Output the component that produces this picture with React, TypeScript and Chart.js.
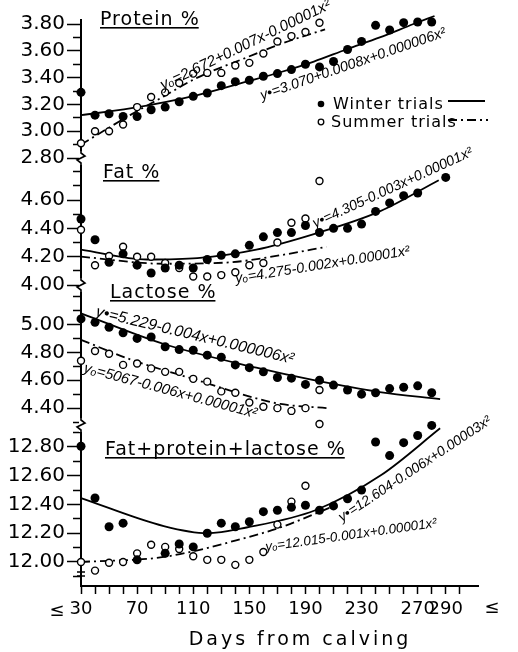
import { useEffect, useRef } from 'react';
import { Chart, registerables } from 'chart.js';

Chart.register(...registerables);

// ---------------- data ----------------
const winterDays = [30, 40, 50, 60, 70, 80, 90, 100, 110, 120, 130, 140, 150, 160, 170, 180, 190, 200, 210, 220, 230, 240, 250, 260, 270, 280];
const summerDays = [30, 40, 50, 60, 70, 80, 90, 100, 110, 120, 130, 140, 150, 160, 170, 180, 190, 200];
const fatWinterDays = [30, 40, 50, 60, 70, 80, 90, 100, 110, 120, 130, 140, 150, 160, 170, 180, 190, 200, 210, 220, 230, 240, 250, 260, 270, 290];
const fplWinterDays = [30, 40, 50, 60, 70, 90, 100, 110, 120, 130, 140, 150, 160, 170, 180, 190, 200, 210, 220, 230, 240, 250, 260, 270, 280];

const proteinWinter = [3.29, 3.12, 3.13, 3.11, 3.11, 3.16, 3.18, 3.22, 3.26, 3.285, 3.34, 3.37, 3.38, 3.41, 3.43, 3.46, 3.5, 3.48, 3.52, 3.61, 3.67, 3.79, 3.755, 3.81, 3.815, 3.815];
const proteinSummer = [2.91, 3.0, 3.0, 3.05, 3.18, 3.255, 3.29, 3.36, 3.43, 3.435, 3.435, 3.49, 3.51, 3.58, 3.67, 3.71, 3.74, 3.81];
const fatWinter = [4.466, 4.32, 4.16, 4.22, 4.14, 4.085, 4.12, 4.14, 4.12, 4.18, 4.21, 4.22, 4.28, 4.34, 4.37, 4.37, 4.42, 4.37, 4.4, 4.4, 4.43, 4.52, 4.58, 4.63, 4.65, 4.76];
const fatSummer = [4.39, 4.14, 4.205, 4.27, 4.2, 4.2, 4.155, 4.12, 4.06, 4.06, 4.07, 4.09, 4.14, 4.155, 4.3, 4.44, 4.47, 4.735];
const lactoseWinter = [5.04, 5.015, 4.98, 4.94, 4.9, 4.91, 4.84, 4.82, 4.815, 4.78, 4.765, 4.71, 4.69, 4.66, 4.62, 4.615, 4.57, 4.6, 4.565, 4.53, 4.5, 4.51, 4.54, 4.55, 4.56, 4.51];
const lactoseSummer = [4.74, 4.81, 4.79, 4.71, 4.72, 4.685, 4.66, 4.66, 4.61, 4.59, 4.52, 4.51, 4.44, 4.41, 4.4, 4.38, 4.4, 4.53];
const fplWinter = [12.805, 12.445, 12.245, 12.27, 12.015, 12.06, 12.125, 12.105, 12.2, 12.27, 12.245, 12.28, 12.35, 12.36, 12.38, 12.395, 12.36, 12.39, 12.44, 12.5, 12.835, 12.74, 12.83, 12.88, 12.95];
const fplSummer = [12.0, 11.94, 11.995, 12.0, 12.06, 12.12, 12.105, 12.09, 12.04, 12.015, 12.015, 11.98, 12.015, 12.07, 12.26, 12.42, 12.53, 12.96];

// fitted curves
const proteinWinterFitDays = [30, 65, 113, 148, 172, 196, 219, 243, 267, 282];
const proteinWinterFit = [3.12, 3.17, 3.27, 3.37, 3.44, 3.52, 3.61, 3.7, 3.8, 3.86];
const proteinSummerFitDays = [30, 65, 89, 113, 148, 172, 204];
const proteinSummerFit = [2.9, 3.12, 3.26, 3.4, 3.55, 3.65, 3.76];
const fatWinterFitDays = [30, 77, 113, 155, 196, 243, 285];
const fatWinterFit = [4.25, 4.18, 4.19, 4.25, 4.36, 4.52, 4.74];
const fatSummerFitDays = [30, 89, 136, 172, 205];
const fatSummerFit = [4.2, 4.15, 4.16, 4.21, 4.27];
const lactoseWinterFitDays = [30, 89, 155, 196, 243, 286];
const lactoseWinterFit = [5.08, 4.86, 4.69, 4.6, 4.515, 4.465];
const lactoseSummerFitDays = [30, 65, 113, 155, 172, 205];
const lactoseSummerFit = [4.89, 4.75, 4.6, 4.47, 4.43, 4.4];
const fplWinterFitDays = [30, 89, 120, 148, 197, 244, 286];
const fplWinterFit = [12.445, 12.25, 12.2, 12.24, 12.36, 12.605, 12.93];
const fplSummerFitDays = [30, 89, 148, 172, 208];
const fplSummerFit = [12.0, 12.035, 12.17, 12.24, 12.38];

// tick labels
const xTickLabels = [30, 70, 110, 150, 190, 230, 270, 290];
const proteinTickLabels = [2.8, 3.0, 3.2, 3.4, 3.6, 3.8];
const fatTickLabels = [4.0, 4.2, 4.4, 4.6];
const lactoseTickLabels = [4.4, 4.6, 4.8, 5.0];
const fplTickLabels = [12.0, 12.2, 12.4, 12.6, 12.8];

const panelTitles = ['Protein %', 'Fat %', 'Lactose %', 'Fat+protein+lactose %'];
const legendLabels = ['Winter trials', 'Summer trials'];
const xTitle = 'Days from calving';
const equations = [
  'yₒ=2.672+0.007x-0.00001x²',
  'y•=3.070+0.0008x+0.000006x²',
  'y•=4.305-0.003x+0.00001x²',
  'yₒ=4.275-0.002x+0.00001x²',
  'y•=5.229-0.004x+0.000006x²',
  'yₒ=5067-0.006x+0.00001x²',
  'y•=12.604-0.006x+0.00003x²',
  'yₒ=12.015-0.001x+0.00001x²',
];

// ---------------- styling / layout ----------------
const SANS = '"DejaVu Sans", sans-serif';
const SUMMER_DASH = [9, 4, 2, 4];

const titlePos = [
  [100, 25],
  [103, 178],
  [110, 298],
  [105, 455],
];
const eqPos = [
  [163, 90, 332, 8],
  [262, 100, 447, 36],
  [315, 228, 474, 155],
  [236, 283, 410, 255],
  [95, 316, 293, 364],
  [83, 372, 255, 418],
  [342, 522, 492, 423],
  [266, 551, 437, 527],
];

const pts = (xs: number[], ys: number[]) => xs.map((d, i) => ({ x: d, y: ys[i] }));

function winterPoints(xs: number[], ys: number[], axis: string) {
  return {
    data: pts(xs, ys),
    yAxisID: axis,
    showLine: false,
    pointRadius: 4.5,
    pointBackgroundColor: '#000',
    pointBorderColor: '#000',
    pointBorderWidth: 0,
    clip: false as const,
    order: 0,
  };
}
function summerPoints(xs: number[], ys: number[], axis: string) {
  return {
    data: pts(xs, ys),
    yAxisID: axis,
    showLine: false,
    pointRadius: 3.5,
    pointBackgroundColor: '#fff',
    pointBorderColor: '#000',
    pointBorderWidth: 1.4,
    clip: false as const,
    order: 0,
  };
}
function fitLine(xs: number[], ys: number[], axis: string, dashed: boolean) {
  return {
    data: pts(xs, ys),
    yAxisID: axis,
    showLine: true,
    pointRadius: 0,
    borderColor: '#000',
    borderWidth: 1.8,
    borderDash: dashed ? SUMMER_DASH : [],
    tension: 0.4,
    cubicInterpolationMode: 'monotone' as const,
    clip: false as const,
    order: 1,
  };
}

function yAxis(min: number, max: number, weight: number, labels: number[]) {
  return {
    type: 'linear' as const,
    position: 'left' as const,
    stack: 'panels',
    stackWeight: weight,
    min,
    max,
    border: { display: true, color: '#000', width: 2 },
    grid: {
      drawOnChartArea: false,
      drawTicks: true,
      tickLength: 14,
      tickColor: '#000',
      tickWidth: 1.5,
      tickBorderDash: (ctx: any) => {
        const v = ctx.tick ? ctx.tick.value : 0;
        const major = labels.some((l) => Math.abs(l - v) < 1e-6);
        return major ? [] : [0, 6, 30];
      },
    },
    ticks: {
      stepSize: 0.1,
      includeBounds: false,
      autoSkip: false,
      padding: 2,
      color: '#000',
      font: { family: SANS, size: 20 },
      callback: (v: any) => {
        const n = Number(v);
        return labels.some((l) => Math.abs(l - n) < 1e-6) ? n.toFixed(2) : '';
      },
    },
    afterFit: (s: any) => {
      s.width = 81;
      s.paddingTop = 0;
      s.paddingBottom = 0;
    },
  };
}

const decorPlugin = {
  id: 'decor',
  afterDraw(chart: any) {
    const ctx: CanvasRenderingContext2D = chart.ctx;
    const { yF, yL, yT, x } = chart.scales;
    const ax = chart.chartArea.left;
    ctx.save();
    ctx.fillStyle = '#000';
    ctx.strokeStyle = '#000';
    ctx.lineCap = 'butt';

    // axis breaks
    [yF.top, yL.top, yT.top].forEach((by: number) => {
      ctx.fillStyle = '#fff';
      ctx.fillRect(ax - 2, by - 7, 4, 14);
      ctx.beginPath();
      ctx.moveTo(ax, by - 8);
      ctx.lineTo(ax, by - 5);
      ctx.lineTo(ax + 4, by - 2);
      ctx.lineTo(ax - 4, by + 2);
      ctx.lineTo(ax, by + 5);
      ctx.lineTo(ax, by + 8);
      ctx.lineWidth = 1.6;
      ctx.stroke();
    });
    const bb = yT.bottom - 12;
    ctx.lineWidth = 1.5;
    ctx.beginPath();
    ctx.moveTo(ax - 4, bb - 2);
    ctx.lineTo(ax + 4, bb - 2);
    ctx.moveTo(ax - 4, bb + 2);
    ctx.lineTo(ax + 4, bb + 2);
    ctx.stroke();

    ctx.fillStyle = '#000';
    // panel titles
    (ctx as any).letterSpacing = '1px';
    ctx.font = `19px ${SANS}`;
    ctx.textBaseline = 'alphabetic';
    ctx.textAlign = 'left';
    panelTitles.forEach((t, i) => {
      const [tx, ty] = titlePos[i];
      ctx.fillText(t, tx, ty);
      const w = ctx.measureText(t).width;
      ctx.fillRect(tx, ty + 2, w - 1, 1.6);
    });

    // legend
    ctx.font = `16px ${SANS}`;
    ctx.beginPath();
    ctx.arc(321, 104, 3.3, 0, Math.PI * 2);
    ctx.fill();
    ctx.fillText(legendLabels[0], 333, 109);
    ctx.beginPath();
    ctx.arc(321, 122, 2.8, 0, Math.PI * 2);
    ctx.lineWidth = 1.3;
    ctx.stroke();
    ctx.fillText(legendLabels[1], 331, 127);
    ctx.lineWidth = 1.8;
    ctx.beginPath();
    ctx.moveTo(448, 101);
    ctx.lineTo(485, 101);
    ctx.stroke();
    ctx.setLineDash(SUMMER_DASH);
    ctx.beginPath();
    ctx.moveTo(448, 120);
    ctx.lineTo(488, 120);
    ctx.stroke();
    ctx.setLineDash([]);

    // x-axis title and extras
    (ctx as any).letterSpacing = '3px';
    ctx.font = `19px ${SANS}`;
    ctx.textAlign = 'center';
    ctx.fillText(xTitle, 300, 645);
    (ctx as any).letterSpacing = '0px';
    ctx.font = `18px ${SANS}`;
    ctx.fillText('≤', x.left - 24, 616);
    ctx.fillText('≤', x.right + 14, 613);

    // equations
    (ctx as any).letterSpacing = '0px';
    ctx.textAlign = 'left';
    equations.forEach((t, i) => {
      const [x1, y1, x2, y2] = eqPos[i];
      const len = Math.hypot(x2 - x1, y2 - y1);
      const ang = Math.atan2(y2 - y1, x2 - x1);
      ctx.font = `italic 14px "Liberation Sans", sans-serif`;
      const w = ctx.measureText(t).width;
      const size = Math.max(10, Math.min(17, (14 * len) / w));
      ctx.font = `italic ${size.toFixed(1)}px "Liberation Sans", sans-serif`;
      ctx.save();
      ctx.translate(x1, y1);
      ctx.rotate(ang);
      ctx.fillText(t, 0, 0);
      ctx.restore();
    });
    ctx.restore();
  },
};

export default function App() {
  const ref = useRef<HTMLCanvasElement | null>(null);
  useEffect(() => {
    if (!ref.current) return;
    const chart = new Chart(ref.current, {
      type: 'scatter',
      data: {
        datasets: [
          winterPoints(winterDays, proteinWinter, 'yP'),
          summerPoints(summerDays, proteinSummer, 'yP'),
          winterPoints(fatWinterDays, fatWinter, 'yF'),
          summerPoints(summerDays, fatSummer, 'yF'),
          winterPoints(winterDays, lactoseWinter, 'yL'),
          summerPoints(summerDays, lactoseSummer, 'yL'),
          winterPoints(fplWinterDays, fplWinter, 'yT'),
          summerPoints(summerDays, fplSummer, 'yT'),
          fitLine(proteinWinterFitDays, proteinWinterFit, 'yP', false),
          fitLine(proteinSummerFitDays, proteinSummerFit, 'yP', true),
          fitLine(fatWinterFitDays, fatWinterFit, 'yF', false),
          fitLine(fatSummerFitDays, fatSummerFit, 'yF', true),
          fitLine(lactoseWinterFitDays, lactoseWinterFit, 'yL', false),
          fitLine(lactoseSummerFitDays, lactoseSummerFit, 'yL', true),
          fitLine(fplWinterFitDays, fplWinterFit, 'yT', false),
          fitLine(fplSummerFitDays, fplSummerFit, 'yT', true),
        ] as any,
      },
      options: {
        animation: false,
        responsive: true,
        maintainAspectRatio: false,
        layout: { padding: { top: 20, right: 40, left: 0, bottom: 0 } },
        plugins: { legend: { display: false }, tooltip: { enabled: false } },
        scales: {
          x: {
            type: 'linear',
            position: 'bottom',
            min: 30,
            max: 313,
            border: { display: true, color: '#000', width: 2 },
            grid: { drawOnChartArea: false, drawTicks: true, tickLength: 8, tickColor: '#000', tickWidth: 1.5 },
            ticks: {
              stepSize: 10,
              includeBounds: false,
              autoSkip: false,
              maxRotation: 0,
              padding: 5,
              color: '#000',
              font: { family: SANS, size: 18 },
              callback: (v: any) => {
                const n = Math.round(Number(v));
                return xTickLabels.includes(n) ? String(n) : '';
              },
            },
            afterBuildTicks: (s: any) => {
              s.ticks = s.ticks.filter((t: any) => t.value <= 300.001);
            },
            afterFit: (s: any) => {
              s.height = 66;
              s.paddingLeft = 0;
              s.paddingRight = 0;
            },
          },
          yT: yAxis(11.833, 12.953, 161, fplTickLabels),
          yL: yAxis(4.279, 5.283, 140, lactoseTickLabels),
          yF: yAxis(4.0, 4.897, 127, fatTickLabels),
          yP: yAxis(2.8, 3.83, 138, proteinTickLabels),
        } as any,
      },
      plugins: [decorPlugin],
    });
    return () => chart.destroy();
  }, []);
  return (
    <div style={{ position: 'fixed', left: 0, top: 0, width: 518, height: 652, background: '#fff' }}>
      <canvas ref={ref} />
    </div>
  );
}
